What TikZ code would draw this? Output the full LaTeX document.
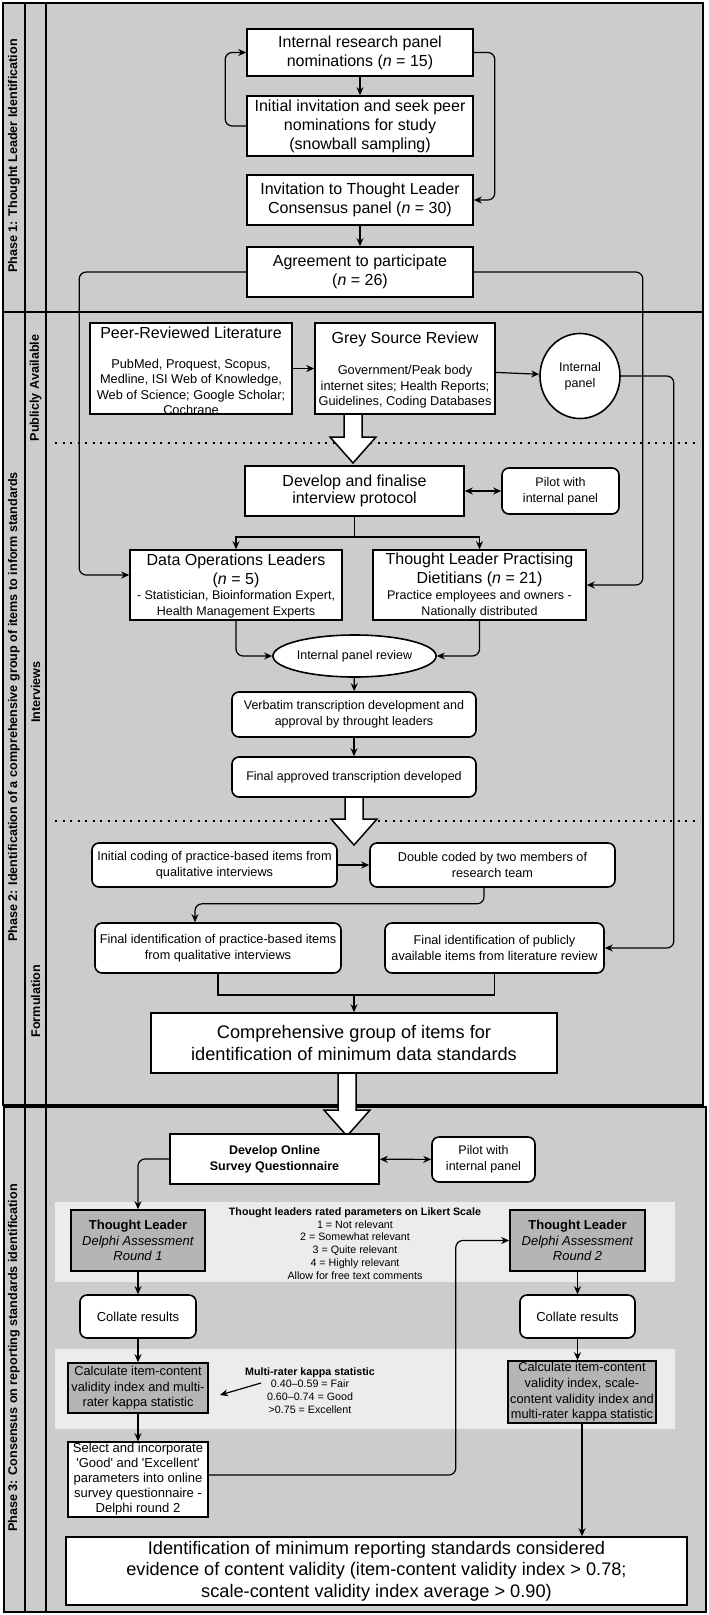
\documentclass[tikz,border=0pt]{standalone}
\usepackage{fontspec}
\setmainfont{Liberation Sans}
\usetikzlibrary{arrows.meta,shapes.geometric,calc}
\definecolor{bgc}{HTML}{CCCCCC}
\definecolor{bandc}{HTML}{ECECEC}
\definecolor{gboxc}{HTML}{B5B5B5}
\newcommand{\fsBig}{\fontsize{16}{19}\selectfont}
\newcommand{\fsDev}{\fontsize{16}{17}\selectfont}
\newcommand{\fsMid}{\fontsize{12.8}{15.6}\selectfont}
\newcommand{\fsSm}{\fontsize{12.5}{16}\selectfont}
\newcommand{\fsIt}{\fontsize{12.7}{16}\selectfont}
\newcommand{\fsHuge}{\fontsize{18.2}{21.7}\selectfont}
\newcommand{\fsTiny}{\fontsize{10.7}{12.8}\selectfont}
\newcommand{\fsRd}{\fontsize{13}{15.5}\selectfont}
\newcommand{\fsCalc}{\fontsize{12.8}{15.6}\selectfont}
\newcommand{\fsLane}{\fontsize{12.6}{14}\selectfont\bfseries}
\newcommand{\hollowarrow}[3]{%
  \draw[line width=1.5pt, fill=white, line join=miter] (#1-9,#2) -- (#1+9,#2) -- (#1+9,#3-26) -- (#1+23,#3-26) -- (#1,#3) -- (#1-23,#3-26) -- (#1-9,#3-26) -- cycle;}
\begin{document}
\begin{tikzpicture}[x=1pt,y=-1pt,
  box/.style={draw=black, fill=white, line width=1.6pt, align=center, inner sep=1pt},
  rbox/.style={box, rounded corners=7pt},
  gbox/.style={box, fill=gboxc},
  ell/.style={box, ellipse, inner sep=0pt},
  txt/.style={align=center, inner sep=0pt},
  conn/.style={line width=1.2pt, rounded corners=7pt, -{Stealth[length=8pt,width=7pt]}},
  dconn/.style={line width=1.2pt, {Stealth[length=8pt,width=7pt]}-{Stealth[length=8pt,width=7pt]}},
  plainline/.style={line width=1.2pt},
  lanetitle/.style={font=\fsLane, rotate=90, inner sep=0pt},
  phaseframe/.style={draw=black, line width=2.8pt},
  dotline/.style={line width=2pt, dash pattern=on 2pt off 5.5pt},
]
\useasboundingbox (0,0) rectangle (709,1615);
% ---------- frames ----------
\fill[bgc] (3,3) rectangle (703,1105);
\fill[bgc] (4,1107) rectangle (706,1612);
\fill[bandc] (55,1202) rectangle (675,1282);
\fill[bandc] (55,1349) rectangle (675,1429);
\draw[line width=2.8pt] (25,3) -- (25,1105);
\draw[line width=2pt] (46,3) -- (46,1105);
\draw[line width=2.8pt] (25,1107) -- (25,1612);
\draw[line width=2pt] (46,1107) -- (46,1612);
\draw[phaseframe] (3,3) rectangle (703,312);
\draw[phaseframe] (3,312) rectangle (703,1105);
\draw[phaseframe] (4,1107) rectangle (706,1612);
\draw[dotline] (55,443) -- (700,443);
\draw[dotline] (55,821) -- (700,821);
% ---------- lane titles ----------
\node[lanetitle] (t1) at (14,156) {Phase 1: Thought Leader Identification};
\node[lanetitle] (t2) at (14,707) {Phase 2: Identification of a comprehensive group of items to inform standards};
\node[lanetitle] (t3) at (14,1358) {Phase 3: Consensus on reporting standards identification};
\node[lanetitle] (s1) at (35.5,388) {Publicly Available};
\node[lanetitle] (s2) at (35.5,692) {Interviews};
\node[lanetitle] (s3) at (35.5,1001) {Formulation};
% ---------- hollow arrows ----------
\hollowarrow{353}{414}{463}
\hollowarrow{354}{797}{845}
\hollowarrow{347}{1073}{1136}
% ---------- phase 1 ----------
\node[box, minimum width=226, minimum height=47, font=\fsBig] (b1) at (360,52.5) {Internal research panel\\nominations (\textit{n} = 15)};
\node[box, minimum width=226, minimum height=60, font=\fsBig] (b2) at (360,126) {Initial invitation and seek peer\\nominations for study\\(snowball sampling)};
\node[box, minimum width=226, minimum height=50, font=\fsBig] (b3) at (360,200) {Invitation to Thought Leader\\Consensus panel (\textit{n} = 30)};
\node[box, minimum width=226, minimum height=50, font=\fsBig] (b4) at (360,272) {Agreement to participate\\(\textit{n} = 26)};
% ---------- phase 2 ----------
\node[box, minimum width=202, minimum height=91] (peer) at (191,368.5) {};
\node[txt, font=\fsBig] (peerT) at (191,333) {Peer-Reviewed Literature};
\node[txt, font=\fsMid] (peerB) at (191,387) {PubMed, Proquest, Scopus,\\Medline, ISI Web of Knowledge,\\Web of Science; Google Scholar;\\Cochrane};
\node[box, minimum width=180, minimum height=91] (grey) at (405,368.5) {};
\node[txt, font=\fsBig] (greyT) at (405,339) {Grey Source Review};
\node[txt, font=\fsMid] (greyB) at (405,386.7) {Government/Peak body\\internet sites; Health Reports;\\Guidelines, Coding Databases};
\node[ell, minimum width=80, minimum height=85, font=\fsSm] (ip) at (580,376) {Internal\\panel};
\node[box, minimum width=219, minimum height=50, font=\fsDev] (dev) at (354.5,491) {Develop and finalise\\interview protocol};
\node[rbox, minimum width=117, minimum height=46, font=\fsSm] (pilot1) at (560.5,491) {Pilot with\\internal panel};
\node[box, minimum width=212, minimum height=70] (dol) at (236,585) {};
\node[txt, font=\fsBig] (dolT) at (236,570.5) {Data Operations Leaders\\(\textit{n} = 5)};
\node[txt, font=\fsSm] (dolB) at (236,604.5) {- Statistician, Bioinformation Expert,\\Health Management Experts};
\node[box, minimum width=213, minimum height=70] (tl) at (479.5,585) {};
\node[txt, font=\fsBig] (tlT) at (479.5,569.5) {Thought Leader Practising\\Dietitians (\textit{n} = 21)};
\node[txt, font=\fsSm] (tlB) at (479.5,604) {Practice employees and owners -\\Nationally distributed};
\node[ell, minimum width=131, minimum height=42, font=\fsSm] (ipr) at (354.5,656) {Internal panel review};
\node[rbox, minimum width=244, minimum height=45, font=\fsSm] (verb) at (354,714.5) {Verbatim transcription development and\\approval by throught leaders};
\node[rbox, minimum width=244, minimum height=40, font=\fsSm] (fin) at (354,777) {Final approved transcription developed};
\node[rbox, minimum width=245, minimum height=44, font=\fsIt] (ic) at (214.5,865) {Initial coding of practice-based items from\\qualitative interviews};
\node[rbox, minimum width=245, minimum height=44, font=\fsIt] (dc) at (492.5,865) {Double coded by two members of\\research team};
\node[rbox, minimum width=246, minimum height=50, font=\fsIt] (fi1) at (218,948) {Final identification of practice-based items\\from qualitative interviews};
\node[rbox, minimum width=219, minimum height=50, font=\fsIt] (fi2) at (494.5,948) {Final identification of publicly\\available items from literature review};
\node[box, minimum width=406, minimum height=60, font=\fsHuge] (comp) at (354,1043) {Comprehensive group of items for\\identification of minimum data standards};
% ---------- phase 3 ----------
\node[box, minimum width=209, minimum height=50, font=\fsSm\bfseries] (dos) at (274.5,1159) {Develop Online\\Survey Questionnaire};
\node[rbox, minimum width=103, minimum height=45, font=\fsSm] (pilot2) at (483.5,1159.5) {Pilot with\\internal panel};
\node[txt, font=\fsTiny] (lik) at (355,1243.5) {\textbf{Thought leaders rated parameters on Likert Scale}\\1 = Not relevant\\2 = Somewhat relevant\\3 = Quite relevant\\4 = Highly relevant\\Allow for free text comments};
\node[gbox, minimum width=134, minimum height=61, font=\fsRd] (r1) at (138,1240.5) {\textbf{Thought Leader}\\\textit{Delphi Assessment}\\\textit{Round 1}};
\node[gbox, minimum width=135, minimum height=61, font=\fsRd] (r2) at (577.5,1240.5) {\textbf{Thought Leader}\\\textit{Delphi Assessment}\\\textit{Round 2}};
\node[rbox, minimum width=116, minimum height=43, font=\fsRd] (col1) at (138,1316.5) {Collate results};
\node[rbox, minimum width=115, minimum height=43, font=\fsRd] (col2) at (577.5,1316.5) {Collate results};
\node[gbox, minimum width=140, minimum height=50, font=\fsCalc] (calc1) at (138,1388) {Calculate item-content\\validity index and multi-\\rater kappa statistic};
\node[txt, font=\fsTiny] (kap) at (310,1390.5) {\textbf{Multi-rater kappa statistic}\\0.40–0.59 = Fair\\0.60–0.74 = Good\\>0.75 = Excellent};
\node[gbox, minimum width=148, minimum height=62, font=\fsCalc] (calc2) at (582,1392) {Calculate item-content\\validity index, scale-\\content validity index and\\multi-rater kappa statistic};
\node[box, minimum width=140, minimum height=75, font=\fontsize{13}{15}\selectfont] (sel) at (138,1479.5) {Select and incorporate\\\textquotesingle Good\textquotesingle\ and \textquotesingle Excellent\textquotesingle\\parameters into online\\survey questionnaire -\\Delphi round 2};
\node[box, minimum width=621, minimum height=68, font=\fsHuge] (final) at (376.5,1571) {Identification of minimum reporting standards considered\\evidence of content validity (item-content validity index > 0.78;\\scale-content validity index average > 0.90)};
\coordinate (ka) at (261,1383);
\coordinate (kb) at (220,1395);
\coordinate (split) at (354.5,537);
\coordinate (join) at (354,995);
% ---------- connectors phase 1 ----------
\draw[conn] (b1) -- (b2);
\draw[conn] (b2.west) -- ++(-21,0) |- (b1.west);
\draw[conn] (b1.east) -- ++(21,0) |- (b3.east);
\draw[conn] (b3) -- (b4);
\draw[conn] (b4.west) -- ++(-167,0) |- ([yshift=10pt]dol.west);
\draw[conn] (b4.east) -- ++(169,0) |- (tl.east);
% ---------- connectors phase 2 ----------
\draw[conn] (peer) -- (grey);
\draw[conn] (grey) -- (ip);
\draw[conn] (ip.east) -- ++(53,0) |- (fi2.east);
\draw[dconn] (dev) -- (pilot1);
\draw[plainline] (dev.south) -- (split);
\draw[conn, rounded corners=0pt] (split) -| (dol.north);
\draw[conn, rounded corners=0pt] (split) -| (tl.north);
\draw[conn] (dol.south) |- (ipr.west);
\draw[conn] (tl.south) |- (ipr.east);
\draw[conn] (ipr) -- (verb);
\draw[conn] (verb) -- (fin);
\draw[conn] (ic) -- (dc);
\draw[conn] ([xshift=-8.5pt]dc.south) -- ++(0,16) -| ([xshift=-23pt]fi1.north);
\draw[plainline] (fi1.south) |- (join);
\draw[plainline] (fi2.south) |- (join);
\draw[conn] (join) -- (comp.north);
% ---------- connectors phase 3 ----------
\draw[dconn] (dos) -- (pilot2);
\draw[conn] (dos.west) -| (r1.north);
\draw[conn] (r1) -- (col1);
\draw[conn] (col1) -- (calc1);
\draw[conn] (calc1) -- (sel);
\draw[conn] (ka) -- (kb);
\draw[conn] ([yshift=4.5pt]sel.east) -- ++(247,0) |- (r2.west);
\draw[conn] (r2) -- (col2);
\draw[conn] (col2.south) -- (col2.south |- calc2.north);
\draw[conn] (calc2.south) -- (calc2.south |- final.north);
\end{tikzpicture}
\end{document}
